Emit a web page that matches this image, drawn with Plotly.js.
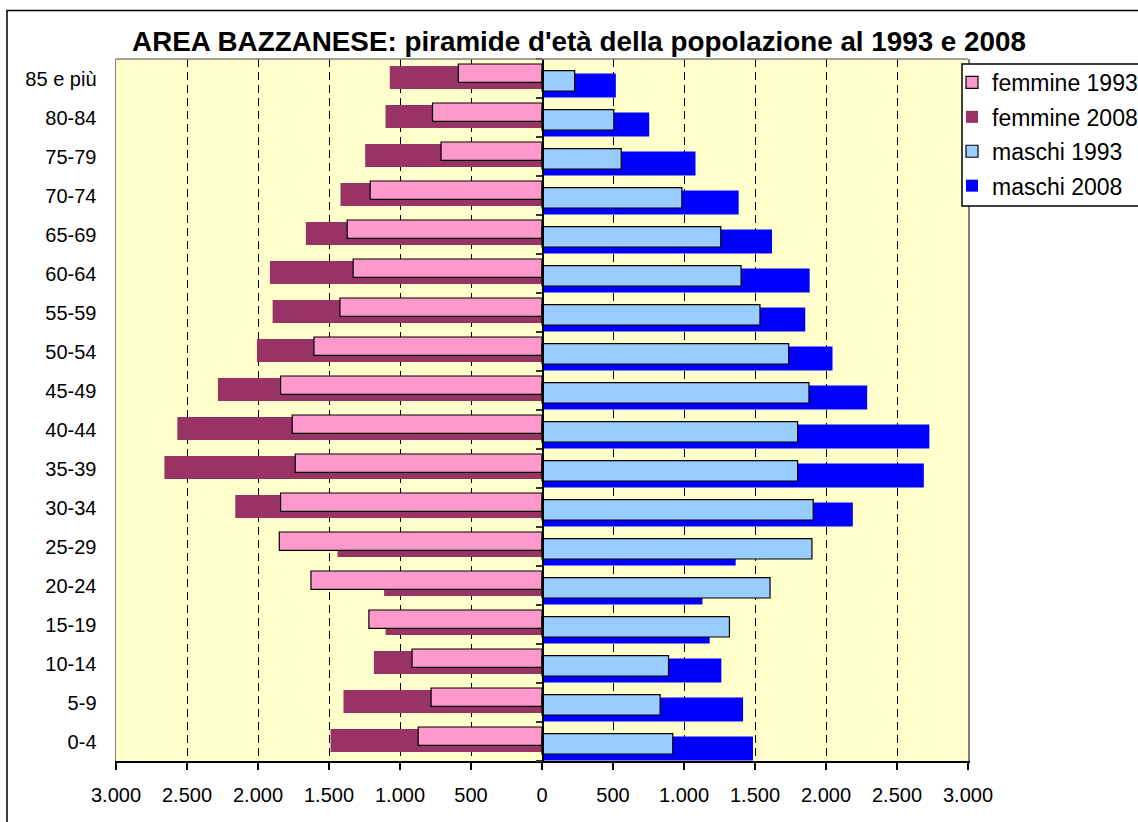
<!DOCTYPE html>
<html>
<head>
<meta charset="utf-8">
<script src="https://cdn.plot.ly/plotly-3.0.1.min.js"></script>
<style>html,body{margin:0;padding:0;background:#fff;}#chart{width:1138px;height:822px;}</style>
</head>
<body>
<div id="chart"></div>
<script>
// Age classes (bottom to top)
const ageClasses = ['0-4','5-9','10-14','15-19','20-24','25-29','30-34','35-39','40-44','45-49','50-54','55-59','60-64','65-69','70-74','75-79','80-84','85 e più'];
// Population values
const femmine1993 = [872, 781, 915, 1219, 1627, 1850, 1841, 1738, 1759, 1841, 1606, 1423, 1330, 1372, 1210, 711, 771, 589];
const femmine2008 = [1489, 1398, 1184, 1102, 1112, 1440, 2160, 2659, 2568, 2282, 2007, 1897, 1916, 1663, 1419, 1245, 1102, 1072];
const maschi1993 = [921, 832, 891, 1320, 1606, 1901, 1910, 1800, 1800, 1880, 1737, 1535, 1402, 1259, 985, 558, 506, 230];
const maschi2008 = [1486, 1416, 1263, 1181, 1130, 1364, 2189, 2689, 2728, 2290, 2046, 1854, 1885, 1620, 1385, 1081, 755, 520];
// Axis ticks
const xTickVals = [-3000,-2500,-2000,-1500,-1000,-500,0,500,1000,1500,2000,2500,3000];
const xTickText = ['3.000','2.500','2.000','1.500','1.000','500','0','500','1.000','1.500','2.000','2.500','3.000'];

const W = 1138, H = 822;
const L = 116, R = 968, T = 59, B = 761;
const px = v => (v - L) / (R - L);
const py = v => 1 - (v - T) / (B - T);
const FONT = 'Liberation Sans, Arial, sans-serif';
const neg = a => a.map(v => -v);

const traces = [
  {type:'bar', orientation:'h', name:'femmine 2008', y:ageClasses, x:neg(femmine2008), yaxis:'y',
   marker:{color:'#993366', line:{width:0}}, offset:-0.27, width:0.59, legendrank:2, legendgroup:'g2', hoverinfo:'skip'},
  {type:'bar', orientation:'h', name:'femmine 1993', y:ageClasses, x:neg(femmine1993), yaxis:'y',
   marker:{color:'#FF99CC', line:{width:1.2, color:'#000000'}}, offset:-0.098, width:0.47, legendrank:1, legendgroup:'g1', hoverinfo:'skip'},
  {type:'bar', orientation:'h', name:'maschi 2008', y:ageClasses, x:maschi2008, yaxis:'y2',
   marker:{color:'#0000FF', line:{width:0}}, offset:-0.49, width:0.62, legendrank:4, legendgroup:'g4', hoverinfo:'skip'},
  {type:'bar', orientation:'h', name:'maschi 1993', y:ageClasses, x:maschi1993, yaxis:'y2',
   marker:{color:'#99CCFF', line:{width:1.2, color:'#000000'}}, offset:-0.32, width:0.52, legendrank:3, legendgroup:'g3', hoverinfo:'skip'}
];

const layout = {
  width: W, height: H,
  paper_bgcolor:'#ffffff', plot_bgcolor:'#FFFFCC',
  margin:{l:L, r:W-R, t:T, b:H-B, pad:0, autoexpand:false},
  barmode:'overlay',
  showlegend:true,
  font:{family:FONT, color:'#000'},
  title:{text:"<b>AREA BAZZANESE: piramide d'età della popolazione al 1993 e 2008</b>",
         font:{family:FONT, size:27.8, color:'#000'}, xref:'container', yref:'container',
         x:579/W, y:1-41/H, xanchor:'center', yanchor:'middle', automargin:false},
  xaxis:{range:[-3000,3000], tickmode:'array', tickvals:xTickVals, ticktext:xTickText,
         showgrid:true, gridcolor:'#000', gridwidth:1, griddash:'8px,5px',
         zeroline:false, showline:true, linecolor:'#000', linewidth:1.5,
         ticks:'outside', ticklen:7, tickcolor:'#000', tickwidth:1.2, automargin:false,
         tickfont:{family:FONT, size:20, color:'#000'}, ticklabelstandoff:8, fixedrange:true},
  yaxis:{type:'category', categoryorder:'array', categoryarray:ageClasses, range:[-0.5, ageClasses.length-0.5],
         showgrid:false, zeroline:false, showline:true, linecolor:'#808080', linewidth:1.5, mirror:true, automargin:false,
         ticks:'', tickfont:{family:FONT, size:20, color:'#000'}, ticklabelstandoff:14, fixedrange:true},
  yaxis2:{type:'category', categoryorder:'array', categoryarray:ageClasses, overlaying:'y', anchor:'free', position:0.5, side:'left',
          range:[-0.5, ageClasses.length-0.5], tickson:'boundaries', ticks:'outside', ticklen:6, tickcolor:'#333', tickwidth:1.2,
          showticklabels:false, showgrid:false, zeroline:false, showline:true, linecolor:'#000', linewidth:1.5, automargin:false},
  legend:{x:px(952), y:py(61), xanchor:'left', yanchor:'top', bgcolor:'rgba(0,0,0,0)', borderwidth:0,
          font:{family:FONT, size:23, color:'#000'}, tracegroupgap:1.5, traceorder:'grouped'},
  shapes:[
    {type:'line', xref:'paper', yref:'paper', x0:0, x1:1, y0:1, y1:1, line:{color:'#808080', width:1.5}, layer:'above'},
    {type:'rect', xref:'paper', yref:'paper', x0:px(962), x1:px(1240), y0:py(206), y1:py(64),
     line:{color:'#000', width:1.5}, fillcolor:'#ffffff', layer:'above'},
    {type:'rect', xref:'paper', yref:'paper', x0:px(7), x1:px(1240), y0:py(900), y1:py(10.5),
     line:{color:'#000', width:1.5}, fillcolor:'rgba(0,0,0,0)', layer:'above'}
  ]
};

Plotly.newPlot('chart', traces, layout, {staticPlot:true, displayModeBar:false});
</script>
</body>
</html>
